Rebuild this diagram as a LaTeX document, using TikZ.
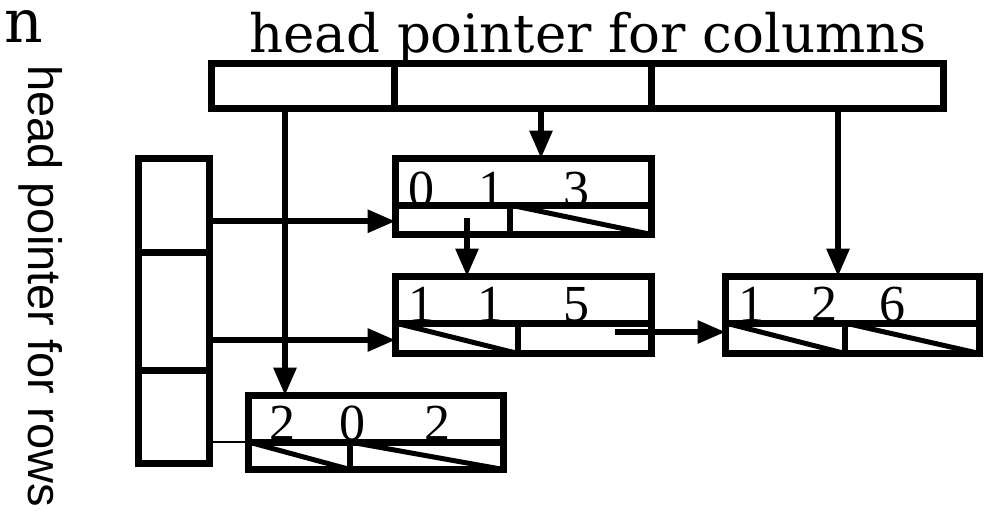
\documentclass[tikz,border=0pt]{standalone}
\usepackage{fontspec}
\setmainfont{Liberation Serif}
\newfontfamily\titlefont{DejaVu Serif}
\newfontfamily\rowfont{Liberation Sans}
\usetikzlibrary{arrows.meta,calc}
\begin{document}
\begin{tikzpicture}[x=1pt,y=-1pt,
  cell/.style={draw, line width=7pt, rectangle, inner sep=0pt, outer sep=0pt},
  rec/.style={draw, line width=7pt, rectangle, inner sep=0pt, outer sep=0pt},
  midline/.style={line width=7pt},
  divline/.style={line width=6pt},
  diag/.style={line width=5pt},
  conn/.style={line width=6pt, -{Triangle[length=28pt,width=22pt]}},
  thin/.style={line width=1.5pt},
  digit/.style={inner sep=0pt, anchor=base, font=\fontsize{52}{52}\selectfont},
  every node/.style={inner sep=0pt}]
\useasboundingbox (0,0) rectangle (984,512);

% labels
\node[anchor=base west, font=\titlefont\fontsize{60}{60}\selectfont] (nlab) at (4,42) {n};
\node[anchor=base west, font=\titlefont\fontsize{53}{53}\selectfont] (title) at (249,52) {head pointer for columns};
\node[anchor=base west, rotate=-90, font=\rowfont\fontsize{47}{47}\selectfont] (rowlab) at (28,65) {head pointer for rows};

% header cells
\node[cell, minimum width=182.5pt, minimum height=45pt] (hc1) at (302.75,86) {};
\node[cell, minimum width=257pt, minimum height=45pt] (hc2) at (522.5,86) {};
\node[cell, minimum width=292.5pt, minimum height=45pt] (hc3) at (797.25,86) {};

% row cells
\node[cell, minimum width=71pt, minimum height=93.5pt] (rc1) at (174,205.25) {};
\node[cell, minimum width=71pt, minimum height=118pt] (rc2) at (174,311) {};
\node[cell, minimum width=71pt, minimum height=93.5pt] (rc3) at (174,416.75) {};

% record 0 1 3
\node[rec, minimum width=256pt, minimum height=76pt] (r013) at (523.5,196.5) {};
\draw[midline] ($(r013.north west)+(0,46.5)$) coordinate (m013l) -- ($(r013.north east)+(0,46.5)$) coordinate (m013r);
\draw[divline] ($(m013l)+(114.5,0)$) coordinate (d013) -- (d013 |- r013.south);
\draw[diag] (d013) -- (r013.south east);
\node[digit] (t013a) at (421,206) {0};
\node[digit] (t013b) at (491,206) {1};
\node[digit] (t013c) at (576,206) {3};

% record 1 1 5
\node[rec, minimum width=256pt, minimum height=77pt] (r115) at (523.5,315) {};
\draw[midline] ($(r115.north west)+(0,46.5)$) coordinate (m115l) -- ($(r115.north east)+(0,46.5)$) coordinate (m115r);
\draw[divline] ($(m115l)+(122.5,0)$) coordinate (d115) -- (d115 |- r115.south);
\draw[diag] (m115l) -- (d115 |- r115.south);
\node[digit] (t115a) at (421,321) {1};
\node[digit] (t115b) at (490,321) {1};
\node[digit] (t115c) at (576,321) {5};

% record 1 2 6
\node[rec, minimum width=254pt, minimum height=77pt] (r126) at (852.5,315) {};
\draw[midline] ($(r126.north west)+(0,46.5)$) coordinate (m126l) -- ($(r126.north east)+(0,46.5)$) coordinate (m126r);
\draw[divline] ($(m126l)+(119.5,0)$) coordinate (d126) -- (d126 |- r126.south);
\draw[diag] (m126l) -- (d126 |- r126.south);
\draw[diag] (d126) -- (r126.south east);
\node[digit] (t126a) at (751,321) {1};
\node[digit] (t126b) at (824,321) {2};
\node[digit] (t126c) at (892,321) {6};

% record 2 0 2
\node[rec, minimum width=255pt, minimum height=74pt] (r202) at (376,432.5) {};
\draw[midline] ($(r202.north west)+(0,46.5)$) coordinate (m202l) -- ($(r202.north east)+(0,46.5)$) coordinate (m202r);
\draw[divline] ($(m202l)+(101.5,0)$) coordinate (d202) -- (d202 |- r202.south);
\draw[diag] (m202l) -- (d202 |- r202.south);
\draw[diag] (d202) -- (r202.south east);
\node[digit] (t202a) at (282,440) {2};
\node[digit] (t202b) at (352,440) {0};
\node[digit] (t202c) at (437,440) {2};

% connectors from header
\coordinate (a1) at ($(hc1.south west)+(73.5,0)$);
\coordinate (a2) at ($(hc2.south west)+(147,0)$);
\coordinate (a3) at ($(hc3.south west)+(187,0)$);
\draw[conn] (a1) -- (a1 |- r202.north);
\draw[conn] (a2) -- (a2 |- r013.north);
\draw[conn] (a3) -- (a3 |- r126.north);

% connectors from rows
\coordinate (b1) at ($(rc1.east)+(0,16)$);
\coordinate (b2) at ($(rc2.east)+(0,29)$);
\coordinate (b3) at ($(rc3.east)+(0,25.25)$);
\draw[conn] (b1) -- (b1 -| r013.west);
\draw[conn] (b2) -- (b2 -| r115.west);
\draw[thin] (b3) -- (b3 -| r202.west);

% links between records
\coordinate (c1) at ($(r013.north west)+(71.5,59.5)$);
\draw[conn] (c1) -- (c1 |- r115.north);
\coordinate (c2) at ($(r115.north west)+(219.5,55.5)$);
\draw[conn] (c2) -- (c2 -| r126.west);
\end{tikzpicture}
\end{document}
